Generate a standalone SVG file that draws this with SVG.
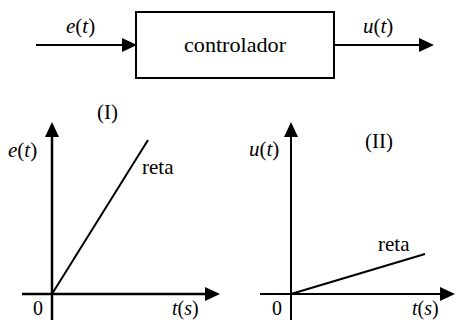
<svg xmlns="http://www.w3.org/2000/svg" width="457" height="320" viewBox="0 0 457 320">
<style>
text{font-family:"Liberation Serif","Times New Roman","DejaVu Serif",serif;font-size:21px;fill:#000}
.i{font-style:italic}
.b{font-size:20px}
.ln{stroke:#000;fill:none;stroke-width:2}
.ax{stroke:#000;fill:none;stroke-width:2.5}
</style>
<defs>
<marker id="ah" markerUnits="userSpaceOnUse" markerWidth="15" markerHeight="14" refX="0" refY="7" orient="auto" viewBox="0 0 15 14">
<path d="M0,0 L15,7 L0,14 z" fill="#000"/>
</marker>
</defs>
<rect width="457" height="320" fill="#fff"/>
<g id="controlador">
<rect x="136" y="12" width="198" height="66" fill="#fff" stroke="#000" stroke-width="2"/>
<text x="184" y="52" textLength="102" lengthAdjust="spacingAndGlyphs">controlador</text>
</g>
<g id="graph1">
<text x="97" y="119">(I)</text>
<text x="8" y="157"><tspan class="i">e</tspan>(<tspan class="i">t</tspan>)</text>
<text x="142" y="174">reta</text>
<text class="b" x="33" y="315">0</text>
<text class="b" x="172" y="315"><tspan class="i">t</tspan>(<tspan class="i">s</tspan>)</text>
<line class="ax" x1="52" y1="320" x2="52" y2="137" marker-end="url(#ah)"/>
<line class="ax" x1="22" y1="294" x2="205" y2="294" marker-end="url(#ah)"/>
<line class="ln" x1="52" y1="294" x2="148" y2="140" stroke-width="2.5"/>
</g>
<g id="graph2">
<text x="365" y="148">(II)</text>
<text x="249" y="156"><tspan class="i">u</tspan>(<tspan class="i">t</tspan>)</text>
<text x="378" y="251">reta</text>
<text class="b" x="272" y="315">0</text>
<text class="b" x="412" y="315"><tspan class="i">t</tspan>(<tspan class="i">s</tspan>)</text>
<line class="ln" x1="291" y1="320" x2="291" y2="137" marker-end="url(#ah)"/>
<line class="ln" x1="260" y1="294" x2="440" y2="294" marker-end="url(#ah)"/>
<line class="ln" x1="291" y1="294" x2="425" y2="254" stroke-width="2.5"/>
</g>
<g id="connectors">
<line class="ln" x1="36" y1="45" x2="122" y2="45" marker-end="url(#ah)"/>
<line class="ln" x1="334" y1="45" x2="419" y2="45" marker-end="url(#ah)"/>
<text x="66" y="33"><tspan class="i">e</tspan>(<tspan class="i">t</tspan>)</text>
<text x="363" y="33"><tspan class="i">u</tspan>(<tspan class="i">t</tspan>)</text>
</g>
</svg>
